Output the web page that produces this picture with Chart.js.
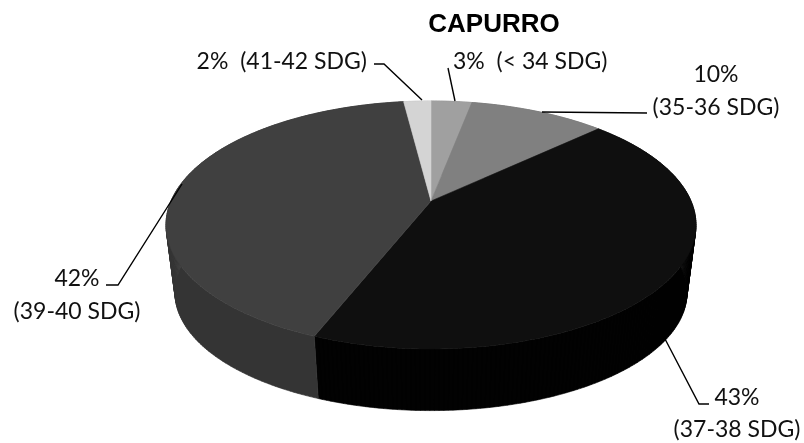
<!DOCTYPE html>
<html>
<head>
<meta charset="utf-8">
<script src="https://cdn.jsdelivr.net/npm/chart.js@4"></script>
<style>
  html, body { margin: 0; padding: 0; background: #fff; }
  canvas { display: block; }
</style>
</head>
<body>
<canvas id="capurroChart" width="804" height="443"></canvas>
<script>
// ===== DATA =====
const chartTitle = 'CAPURRO';
const categories = ['< 34 SDG', '35-36 SDG', '37-38 SDG', '39-40 SDG', '41-42 SDG'];
const percents = [3, 10, 43, 42, 2];
const topColors = ['#a0a0a0', '#808080', '#0f0f0f', '#404040', '#d4d4d4'];
const wallColors = ['#8a8a8a', '#6e6e6e', '#020202', '#343434', '#b8b8b8'];

// ===== PIE GEOMETRY =====
const pie = {
  cx: 431, apexY: 201,   // where the slices meet on the top face
  rx: 260, ry: 119.35,   // projected radii
  tilt: -0.1935,         // perspective term, near rim looks larger
  depth: 69,             // drop of the bottom face
  shrinkX: 0.966,        // bottom face is a bit smaller
  shrinkY: 0.95
};

function project(angle, bottom) {
  const w = 1 + pie.tilt * Math.sin(angle);
  return {
    x: pie.cx + (bottom ? pie.shrinkX : 1) * pie.rx * Math.cos(angle) / w,
    y: pie.apexY + (bottom ? pie.depth : 0) + (bottom ? pie.shrinkY : 1) * pie.ry * Math.sin(angle) / w
  };
}

function rimPoints(start, end, bottom) {
  const steps = Math.max(2, Math.ceil((end - start) / 0.015));
  const pts = [];
  for (let i = 0; i <= steps; i++) pts.push(project(start + (end - start) * i / steps, bottom));
  return pts;
}

function addShape(ctx, pts) {
  pts.forEach((p, i) => i ? ctx.lineTo(p.x, p.y) : ctx.moveTo(p.x, p.y));
  ctx.closePath();
}

function paint(ctx, color) {
  ctx.fillStyle = color;
  ctx.strokeStyle = color;
  ctx.lineWidth = 0.6;
  ctx.fill();
  ctx.stroke();
}

// ===== 3D PIE, built from the angles of the arc elements =====
const tiltedPie = {
  id: 'tiltedPie',
  beforeDatasetsDraw(chart) {
    const ctx = chart.ctx;
    const arcs = chart.getDatasetMeta(0).data;
    ctx.save();
    // the rims cross near the sides, so the wall is a run of strips in one path
    arcs.forEach((arc, i) => {
      const top = rimPoints(arc.startAngle, arc.endAngle, false);
      const low = rimPoints(arc.startAngle, arc.endAngle, true);
      ctx.beginPath();
      for (let n = 0; n < top.length - 1; n++) {
        addShape(ctx, [top[n], top[n + 1], low[n + 1], low[n]]);
      }
      paint(ctx, wallColors[i]);
    });
    arcs.forEach((arc, i) => {
      const top = rimPoints(arc.startAngle, arc.endAngle, false);
      ctx.beginPath();
      addShape(ctx, [{ x: pie.cx, y: pie.apexY }].concat(top));
      paint(ctx, topColors[i]);
    });
    ctx.restore();
    return false;
  }
};

// ===== TITLE, LABELS AND LEADER LINES =====
const labelFont = '23px Lato';
const labelSpots = [
  { lines: [[453, 69, 'left', i => `${percents[i]}%  (${categories[i]})`]], leader: [[448, 68], [455, 101]] },
  { lines: [[716, 82, 'center', i => `${percents[i]}%`], [716, 115, 'center', i => `(${categories[i]})`]], leader: [[647, 113], [542, 112]] },
  { lines: [[737, 405, 'center', i => `${percents[i]}%`], [737, 437, 'center', i => `(${categories[i]})`]], leader: [[664, 337], [699, 404], [709, 404]] },
  { lines: [[77, 286, 'center', i => `${percents[i]}%`], [77, 319, 'center', i => `(${categories[i]})`]], leader: [[106, 285], [118, 285], [182, 184]] },
  { lines: [[367, 69, 'right', i => `${percents[i]}%  (${categories[i]})`]], leader: [[374, 64], [384, 64], [422, 100]] }
];

const pieLabels = {
  id: 'pieLabels',
  afterDraw(chart) {
    const ctx = chart.ctx;
    ctx.save();
    ctx.fillStyle = '#000';
    ctx.font = 'bold 26px "Liberation Sans"';
    ctx.textAlign = 'center';
    ctx.fillText(chartTitle, 494, 32);

    ctx.font = labelFont;
    ctx.fillStyle = '#111';
    ctx.strokeStyle = '#000';
    ctx.lineWidth = 1.4;
    labelSpots.forEach((spot, i) => {
      spot.lines.forEach(([x, y, align, text]) => {
        ctx.textAlign = align;
        ctx.fillText(text(i), x, y);
      });
      ctx.beginPath();
      spot.leader.forEach(([x, y], n) => n ? ctx.lineTo(x, y) : ctx.moveTo(x, y));
      ctx.stroke();
    });
    ctx.restore();
  }
};

new Chart(document.getElementById('capurroChart'), {
  type: 'pie',
  data: {
    labels: categories,
    datasets: [{ data: percents, backgroundColor: topColors, borderWidth: 0 }]
  },
  options: {
    responsive: false,
    animation: false,
    plugins: { legend: { display: false }, tooltip: { enabled: false } }
  },
  plugins: [tiltedPie, pieLabels]
});
</script>
</body>
</html>
